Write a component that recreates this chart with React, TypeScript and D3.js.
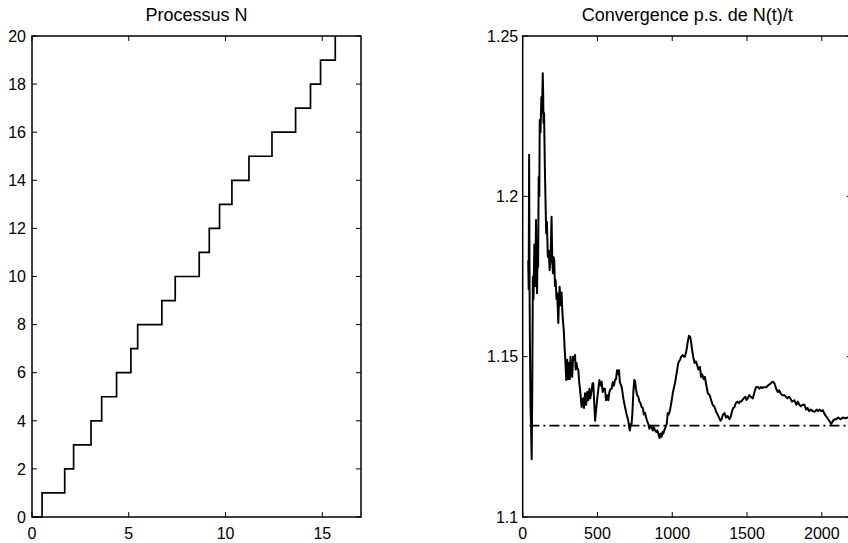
import React from "react";
import * as d3 from "d3";

const jumpTimes = [0, 0.52, 1.69, 2.15, 3.05, 3.6, 4.37, 5.11, 5.46, 6.71, 7.4, 8.64, 9.16, 9.69, 10.33, 11.21, 12.4, 13.62, 14.39, 14.91, 15.67];
const counts = [0, 1, 2, 3, 4, 5, 6, 7, 8, 9, 10, 11, 12, 13, 14, 15, 16, 17, 18, 19, 20];
const leftXTicks = [0, 5, 10, 15];
const leftYTicks = [0, 2, 4, 6, 8, 10, 12, 14, 16, 18, 20];

const convT = [
  37, 40, 43, 46, 48, 52, 56, 60, 64, 68, 72, 78, 84, 89, 93, 96, 100, 103, 107, 111, 114, 119, 125, 129, 134, 137, 139, 143, 148, 152, 157, 162, 168, 175, 180, 186, 193, 197, 202, 207, 211, 216, 220, 226, 231, 238, 243, 247, 254, 260, 265, 269, 275, 280, 286, 291, 298, 303, 309, 315, 320, 326, 331, 337, 343, 350, 354, 360, 365, 372, 378, 385, 394, 398, 404, 410, 417, 424, 431, 439, 446, 452, 461, 467, 472, 480, 484, 490, 500, 513, 520, 528, 535, 542, 550, 557, 565, 572, 580, 588, 595, 602, 610, 617, 624, 631, 638, 644, 650, 662, 673, 684, 695, 706, 712, 717, 722, 728, 733, 740, 746, 751, 757, 765, 773, 780, 788, 795, 803, 810, 818, 825, 832, 840, 847, 855, 862, 870, 877, 885, 893, 900, 907, 915, 922, 929, 935, 940, 947, 955, 963, 970, 977, 985, 995, 1005, 1018, 1030, 1040, 1052, 1060, 1070, 1078, 1085, 1095, 1105, 1112, 1119, 1125, 1133, 1140, 1149, 1158, 1166, 1175, 1185, 1193, 1200, 1210, 1218, 1228, 1238, 1250, 1260, 1270, 1283, 1292, 1303, 1313, 1323, 1330, 1340, 1350, 1360, 1370, 1383, 1392, 1400, 1408, 1416, 1425, 1435, 1445, 1452, 1461, 1470, 1478, 1490, 1497, 1505, 1515, 1525, 1539, 1550, 1560, 1572, 1582, 1592, 1600, 1610, 1628, 1640, 1655, 1665, 1673, 1685, 1695, 1706, 1715, 1725, 1735, 1750, 1760, 1770, 1780, 1790, 1800, 1817, 1830, 1840, 1850, 1860, 1872, 1884, 1895, 1905, 1915, 1925, 1940, 1951, 1965, 1975, 1985, 1995, 2007, 2020, 2035, 2050, 2063, 2075, 2085, 2097, 2110, 2125, 2140, 2157, 2175, 2195,
];
const convV = [
  1.18, 1.171, 1.213, 1.17, 1.156, 1.135, 1.128, 1.118, 1.14, 1.175, 1.168, 1.185, 1.172, 1.1926, 1.176, 1.1698, 1.184, 1.178, 1.206, 1.2, 1.2238, 1.22, 1.231, 1.226, 1.2384, 1.232, 1.2229, 1.226, 1.2092, 1.2, 1.1885, 1.192, 1.1811, 1.183, 1.177, 1.18, 1.1936, 1.182, 1.176, 1.181, 1.18, 1.172, 1.1739, 1.168, 1.1698, 1.1605, 1.168, 1.1718, 1.166, 1.17, 1.164, 1.1614, 1.158, 1.153, 1.148, 1.1427, 1.149, 1.143, 1.148, 1.143, 1.15, 1.145, 1.1437, 1.15, 1.149, 1.1505, 1.146, 1.148, 1.1465, 1.1458, 1.142, 1.139, 1.1343, 1.1355, 1.137, 1.134, 1.1386, 1.135, 1.139, 1.1364, 1.14, 1.137, 1.1395, 1.1417, 1.1417, 1.134, 1.13, 1.133, 1.1375, 1.1427, 1.141, 1.1422, 1.139, 1.14, 1.14, 1.1364, 1.138, 1.1364, 1.139, 1.14, 1.14, 1.142, 1.141, 1.1427, 1.143, 1.1458, 1.1445, 1.1458, 1.142, 1.1406, 1.137, 1.1343, 1.132, 1.13, 1.128, 1.127, 1.129, 1.129, 1.132, 1.139, 1.1427, 1.1425, 1.14, 1.138, 1.1375, 1.136, 1.1355, 1.1343, 1.134, 1.132, 1.1325, 1.131, 1.13, 1.129, 1.1275, 1.1285, 1.1281, 1.127, 1.128, 1.127, 1.1265, 1.127, 1.126, 1.1246, 1.126, 1.125, 1.1265, 1.126, 1.127, 1.128, 1.129, 1.1324, 1.132, 1.1333, 1.136, 1.139, 1.1417, 1.145, 1.148, 1.149, 1.15, 1.1505, 1.15, 1.15, 1.152, 1.155, 1.1565, 1.1562, 1.155, 1.152, 1.15, 1.148, 1.1485, 1.1475, 1.146, 1.1468, 1.1437, 1.1445, 1.143, 1.1437, 1.141, 1.1386, 1.138, 1.1365, 1.135, 1.1343, 1.133, 1.132, 1.131, 1.13, 1.1305, 1.132, 1.1324, 1.131, 1.1315, 1.1305, 1.1315, 1.133, 1.134, 1.1343, 1.1355, 1.136, 1.1355, 1.136, 1.136, 1.1365, 1.137, 1.1375, 1.1365, 1.137, 1.138, 1.1375, 1.137, 1.139, 1.1405, 1.1406, 1.14, 1.1405, 1.1402, 1.1405, 1.1405, 1.141, 1.1415, 1.142, 1.1422, 1.1415, 1.14, 1.139, 1.1395, 1.1385, 1.138, 1.138, 1.1375, 1.137, 1.1375, 1.137, 1.136, 1.1364, 1.135, 1.136, 1.135, 1.1345, 1.135, 1.135, 1.1335, 1.134, 1.133, 1.1335, 1.133, 1.1328, 1.1335, 1.133, 1.1335, 1.133, 1.1333, 1.132, 1.131, 1.13, 1.129, 1.13, 1.1305, 1.1305, 1.131, 1.1305, 1.131, 1.1308, 1.131, 1.1312,
];
const limitValue = 1.1285;
const limitRange = [45, 2200];
const rightXTicks = [0, 500, 1000, 1500, 2000];
const rightYTicks = [1.1, 1.15, 1.2, 1.25];

const FONT = "'Liberation Sans', Arial, Helvetica, sans-serif";
const TOP = 36;
const BOTTOM = 517;
const TICK = 5;

function Frame({ x, y, xTicks, yTicks, title, yGap, fmtY }: any) {
  const [x0, x1] = x.range();
  const [yb, yt] = y.range();
  return (
    <g>
      <rect x={x0} y={yt} width={x1 - x0} height={yb - yt} fill="none" stroke="#000" strokeWidth={1.5} />
      {xTicks.map((t: number) => (
        <g key={"xt" + t}>
          <line x1={x(t)} x2={x(t)} y1={yb} y2={yb - TICK} stroke="#000" strokeWidth={1} />
          <line x1={x(t)} x2={x(t)} y1={yt} y2={yt + TICK} stroke="#000" strokeWidth={1} />
          <text x={x(t)} y={539} textAnchor="middle" fontSize={16} fontFamily={FONT} fill="#000">{t}</text>
        </g>
      ))}
      {yTicks.map((t: number) => (
        <g key={"yt" + t}>
          <line x1={x0} x2={x0 + TICK} y1={y(t)} y2={y(t)} stroke="#000" strokeWidth={1} />
          <line x1={x1} x2={x1 - TICK} y1={y(t)} y2={y(t)} stroke="#000" strokeWidth={1} />
          <text x={x0 - yGap} y={y(t)} dy="0.36em" textAnchor="end" fontSize={16} fontFamily={FONT} fill="#000">{fmtY(t)}</text>
        </g>
      ))}
      <text x={(x0 + x1) / 2} y={21} textAnchor="middle" fontSize={18} fontFamily={FONT} fill="#000">{title}</text>
    </g>
  );
}

export default function App() {
  const xL = d3.scaleLinear().domain([0, 17]).range([32, 361]);
  const yL = d3.scaleLinear().domain([0, 20]).range([BOTTOM, TOP]);
  const xR = d3.scaleLinear().domain([0, 2200]).range([522.7, 851.7]);
  const yR = d3.scaleLinear().domain([1.1, 1.25]).range([BOTTOM, TOP]);

  const stepPts = jumpTimes.map((t, i) => [t, counts[i]] as [number, number]);
  const stepLine = d3.line<[number, number]>().x((d) => xL(d[0])).y((d) => yL(d[1])).curve(d3.curveStepAfter);

  const convPts = convT.map((t, i) => [t, convV[i]] as [number, number]);
  const convLine = d3.line<[number, number]>().x((d) => xR(d[0])).y((d) => yR(d[1]));

  return (
    <svg width={848} height={543} style={{ position: "absolute", left: 0, top: 0, background: "#fff" }}>
      <rect x={0} y={0} width={848} height={543} fill="#fff" />
      <path d={stepLine(stepPts) || ""} fill="none" stroke="#000" strokeWidth={1.7} />
      <Frame x={xL} y={yL} xTicks={leftXTicks} yTicks={leftYTicks} title="Processus N" yGap={6} fmtY={(v: number) => String(v)} />

      <line x1={xR(limitRange[0])} x2={xR(limitRange[1])} y1={yR(limitValue)} y2={yR(limitValue)} stroke="#000" strokeWidth={1.7} strokeDasharray="10,4,2,4" />
      <path d={convLine(convPts) || ""} fill="none" stroke="#000" strokeWidth={2} strokeLinejoin="round" />
      <Frame x={xR} y={yR} xTicks={rightXTicks} yTicks={rightYTicks} title="Convergence p.s. de N(t)/t" yGap={4.5} fmtY={(v: number) => String(v)} />
    </svg>
  );
}
